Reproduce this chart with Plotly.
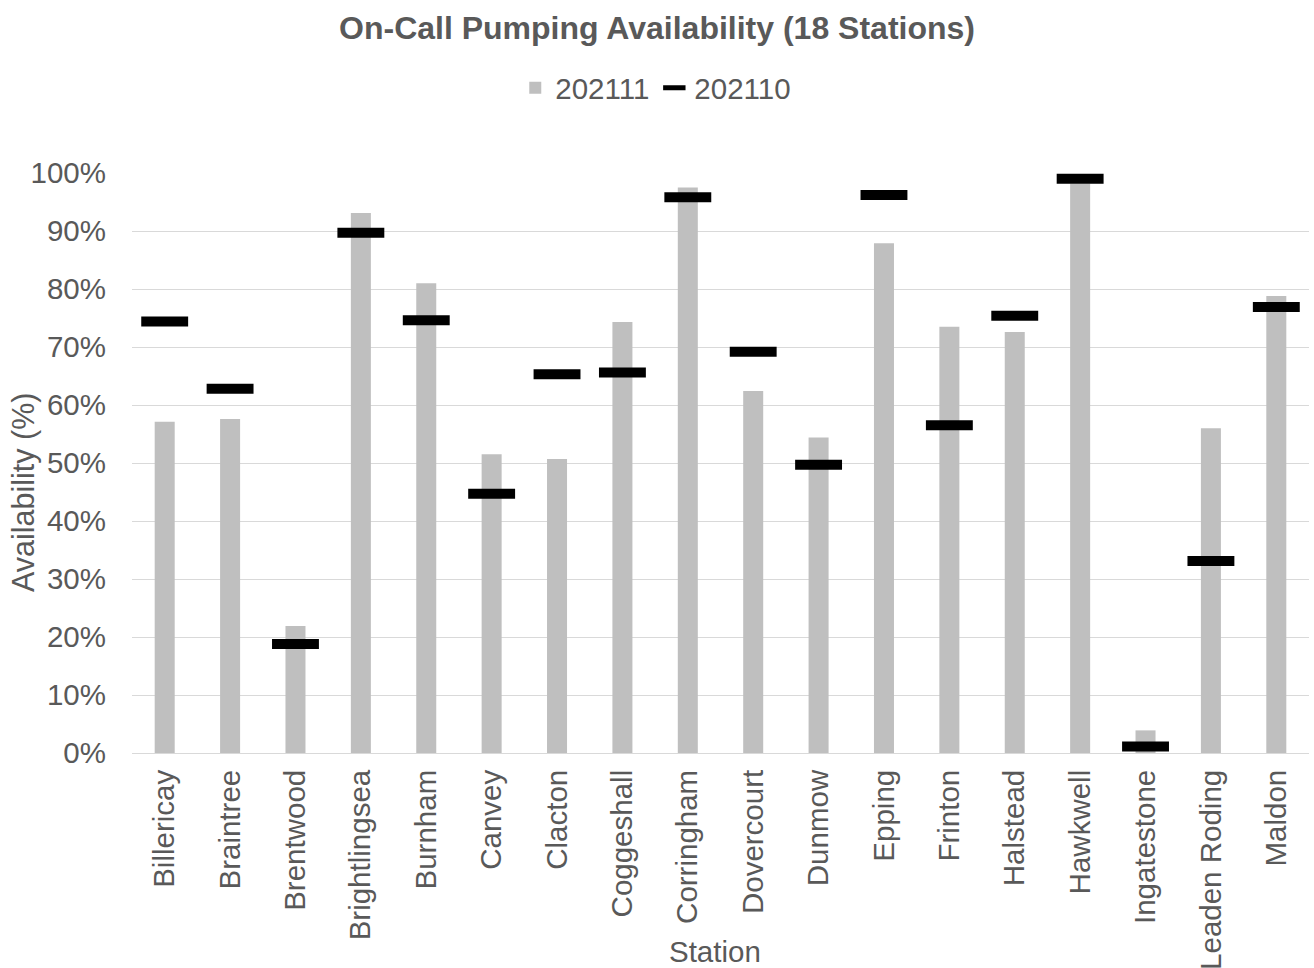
import plotly.graph_objects as go

stations = ["Billericay", "Braintree", "Brentwood", "Brightlingsea", "Burnham", "Canvey",
            "Clacton", "Coggeshall", "Corringham", "Dovercourt", "Dunmow", "Epping",
            "Frinton", "Halstead", "Hawkwell", "Ingatestone", "Leaden Roding", "Maldon"]
avail_202111 = [0.571, 0.576, 0.219, 0.931, 0.810, 0.515, 0.507, 0.743, 0.975, 0.624,
                0.544, 0.879, 0.735, 0.726, 0.982, 0.039, 0.560, 0.788]
avail_202110 = [0.744, 0.628, 0.188, 0.897, 0.746, 0.447, 0.653, 0.656, 0.958, 0.692,
                0.497, 0.962, 0.565, 0.754, 0.990, 0.011, 0.331, 0.769]
y_ticks = [i / 10 for i in range(11)]

TXT = "#595959"
FONT = "Liberation Sans, Arial, sans-serif"
FS = 29.5

fig = go.Figure()
fig.add_trace(go.Bar(x=stations, y=avail_202111, name="202111",
                     marker=dict(color="#BFBFBF", line=dict(width=0))))
fig.add_trace(go.Scatter(x=stations, y=avail_202110, name="202110", mode="markers",
                         cliponaxis=False,
                         marker=dict(symbol="line-ew", size=33.5,
                                     line=dict(color="#000000", width=10))))

fig.update_layout(
    width=1314, height=968,
    margin=dict(l=132, r=5, t=173, b=215),
    paper_bgcolor="white", plot_bgcolor="white",
    font=dict(family=FONT, size=FS, color=TXT),
    bargap=0.694,
    showlegend=True,
    title=dict(text="<b>On-Call Pumping Availability (18 Stations)</b>",
               x=0.5, xref="container", xanchor="center",
               y=1 - 28 / 968, yref="container", yanchor="middle",
               font=dict(family=FONT, size=32, color=TXT)),
    legend=dict(orientation="h", x=0.445, xanchor="center", y=1.1466, yanchor="middle",
                font=dict(family=FONT, size=FS, color=TXT), bgcolor="rgba(0,0,0,0)",
                itemwidth=30),
    xaxis=dict(type="category", range=[-0.5, len(stations) - 0.5], tickangle=-90,
               showgrid=False, showline=True,
               linecolor="#D9D9D9", linewidth=1, ticks="", ticklabelstandoff=4,
               tickfont=dict(family=FONT, size=FS, color=TXT), automargin=False),
    yaxis=dict(range=[0, 1], tickvals=y_ticks, tickformat=".0%", showgrid=True,
               gridcolor="#D9D9D9", gridwidth=1, zeroline=False, ticks="",
               ticklabelstandoff=25, showline=False,
               tickfont=dict(family=FONT, size=FS, color=TXT), automargin=False),
    annotations=[
        dict(text="Availability (%)", textangle=-90, xref="paper", yref="paper",
             x=(23 - 132) / 1177, y=(753 - 493) / 580, xanchor="center", yanchor="middle",
             showarrow=False, font=dict(family=FONT, size=30.5, color=TXT)),
        dict(text="Station", xref="paper", yref="paper",
             x=(715 - 132) / 1177, y=(753 - 951) / 580, xanchor="center", yanchor="middle",
             showarrow=False, font=dict(family=FONT, size=FS, color=TXT)),
    ],
)

fig.write_html("out.html", config={"displayModeBar": False},
               post_script="document.body.style.margin='0';document.body.style.overflow='hidden';")
